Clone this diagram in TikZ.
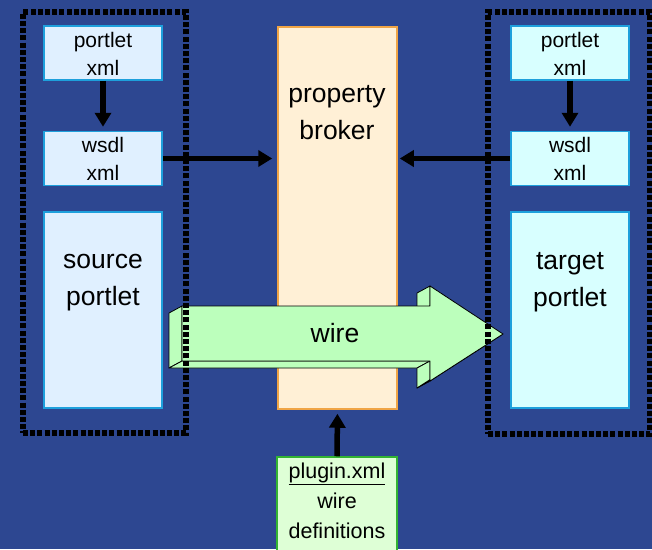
\documentclass[tikz,border=0pt]{standalone}
\usepackage{fontspec}
\setmainfont{Liberation Sans}
\usetikzlibrary{arrows.meta}
\definecolor{bgblue}{RGB}{45,71,145}
\definecolor{lbfill}{RGB}{224,240,255}
\definecolor{rbfill}{RGB}{216,255,255}
\definecolor{boxline}{RGB}{30,160,220}
\definecolor{brfill}{RGB}{255,240,214}
\definecolor{brline}{RGB}{240,165,70}
\definecolor{plfill}{RGB}{222,255,214}
\definecolor{plline}{RGB}{50,180,50}
\definecolor{wirefill}{RGB}{188,255,188}
\tikzset{
  smallbox/.style={draw=boxline, line width=1.5pt, minimum width=118pt, minimum height=54pt, inner sep=0pt},
  bigbox/.style={draw=boxline, line width=1.5pt, minimum width=118pt, minimum height=196pt, inner sep=0pt},
  smalltxt/.style={font=\fontsize{21}{28}\selectfont, align=center, inner sep=0pt, text=black},
  bigtxt/.style={font=\fontsize{26.5}{37}\selectfont, align=center, inner sep=0pt, text=black},
  frame/.style={draw=black, line width=6pt, dash pattern=on 5pt off 2.2pt, inner sep=0pt},
  fatarrow/.style={draw=black, line width=5.5pt, -{Triangle[length=14pt,width=16pt]}},
  wireface/.style={fill=wirefill, draw=black, line width=0.8pt, line join=round}
}
\begin{document}
\begin{tikzpicture}[x=1pt,y=-1pt]
\useasboundingbox (0,0) rectangle (652,549);
\fill[bgblue] (0,0) rectangle (652,549);

% left column
\node[smallbox, fill=lbfill] (lpx) at (103,53) {};
\node[smalltxt] (lpxt) at (103,54) {portlet\\xml};
\node[smallbox, fill=lbfill] (lws) at (103,158.5) {};
\node[smalltxt] (lwst) at (103,159) {wsdl\\xml};
\node[bigbox, fill=lbfill] (src) at (103,310) {};
\node[bigtxt] (srct) at (103,283) {source\\portlet};

% right column
\node[smallbox, fill=rbfill] (rpx) at (570,53) {};
\node[smalltxt] (rpxt) at (570,54) {portlet\\xml};
\node[smallbox, fill=rbfill] (rws) at (570,158.5) {};
\node[smalltxt] (rwst) at (570,159) {wsdl\\xml};
\node[bigbox, fill=rbfill] (tgt) at (570,310) {};
\node[bigtxt] (tgtt) at (570,282) {target\\portlet};

% broker
\node[draw=brline, fill=brfill, line width=1.5pt, minimum width=119pt, minimum height=382pt, inner sep=0pt] (broker) at (337.5,218) {};
\node[bigtxt] (brt) at (337,113) {property\\broker};

% plugin
\node[draw=plline, fill=plfill, line width=1.5pt, minimum width=120pt, minimum height=100pt, inner sep=0pt] (plugin) at (337,507) {};
\node[font=\fontsize{21.5}{30}\selectfont, align=center, inner sep=0pt] (plt) at (337,501) {\underline{plugin.xml}\\wire\\definitions};

% arrows
\draw[fatarrow, shorten >=4pt] (lpx.south) -- (lws.north);
\draw[fatarrow, shorten >=4pt] (rpx.south) -- (rws.north);
\draw[fatarrow, shorten >=5pt] (lws.east) -- (lws.east -| broker.west);
\draw[fatarrow, shorten >=2pt] (rws.west) -- (rws.west -| broker.east);
\draw[fatarrow, shorten >=4pt] (plugin.north) -- (broker.south);

% wire 3D block arrow
\fill[wireface] (182,306) -- (182,361) -- (169,368) -- (169,313) -- cycle;
\fill[wireface] (182,361) -- (430,361) -- (417,368) -- (169,368) -- cycle;
\fill[wireface] (430,286) -- (430,306) -- (417,313) -- (417,293) -- cycle;
\fill[wireface] (430,361) -- (430,381) -- (417,388) -- (417,368) -- cycle;
\fill[wireface] (430,381) -- (503,334) -- (490,341) -- (417,388) -- cycle;
\fill[wireface] (182,306) -- (430,306) -- (430,286) -- (503,334) -- (430,381) -- (430,361) -- (182,361) -- cycle;
\node[bigtxt] (wiret) at (335,333) {wire};

% dotted frames
\node[frame, minimum width=163pt, minimum height=421pt] (lframe) at (104.5,222.5) {};
\node[frame, minimum width=162pt, minimum height=422pt] (rframe) at (569,223) {};
\end{tikzpicture}
\end{document}
